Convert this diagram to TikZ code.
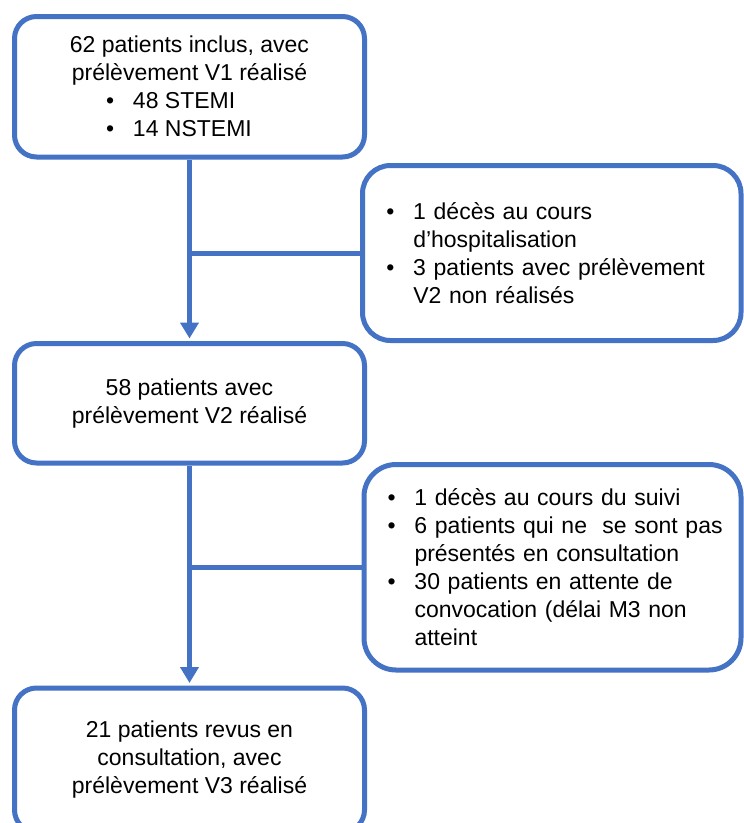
\documentclass[tikz,border=0pt]{standalone}
\usepackage{fontspec}
\setmainfont{Liberation Sans}
\usepackage{xcolor}
\usepackage{tikz}
\usetikzlibrary{arrows.meta}
\definecolor{bleu}{RGB}{68,114,196}
\newcommand{\puce}[1]{\mbox{\makebox[27pt][l]{\textbullet}#1}}
\newcommand{\retrait}[1]{\mbox{\hspace*{27pt}#1}}

\begin{document}
\begin{tikzpicture}[x=1pt,y=-1pt,
    boite/.style={draw=bleu, line width=5pt, fill=white, inner sep=0pt,
        font=\fontsize{23}{28}\selectfont},
    liste/.style={boite, align=left, inner xsep=23.5pt},
    fleche/.style={draw=bleu, line width=5pt, shorten >=2.5pt,
        -{Triangle[width=18pt,length=16pt]}},
    trait/.style={draw=bleu, line width=5pt}]
    \useasboundingbox (0,0) rectangle (744,823);

    % Left column
    \node[boite, rounded corners=22pt, minimum width=350pt, minimum height=140.5pt,
        align=center] (inclus) at (189.5,86.75)
        {62 patients inclus, avec\\prélèvement V1 réalisé\\
         \makebox[167pt][l]{\puce{48 STEMI}}\\
         \makebox[167pt][l]{\puce{14 NSTEMI}}};
    \node[boite, rounded corners=22pt, minimum width=350pt, minimum height=119.5pt,
        align=center] (prelev) at (189.5,403.25)
        {58 patients avec\\prélèvement V2 réalisé};
    \node[boite, rounded corners=22pt, minimum width=350pt, minimum height=144pt,
        align=center] (revus) at (189.5,760)
        {21 patients revus en\\consultation, avec\\prélèvement V3 réalisé};

    % Right column (exclusions)
    \node[liste, rounded corners=28pt, text width=331pt, minimum width=378.5pt,
        minimum height=175pt] (sortie1) at (551.75,253)
        {\puce{1 décès au cours}\\
         \retrait{d’hospitalisation}\\
         \puce{3 patients avec prélèvement}\\
         \retrait{V2 non réalisés}};
    \node[liste, rounded corners=32pt, text width=330pt, minimum width=377pt,
        minimum height=205.5pt] (sortie2) at (552.5,567.25)
        {\puce{1 décès au cours du suivi}\\
         \puce{6 patients qui ne~ se sont pas}\\
         \retrait{présentés en consultation}\\
         \puce{30 patients en attente de}\\
         \retrait{convocation (délai M3 non}\\
         \retrait{atteint}};

    % Connectors
    \draw[fleche] (inclus.south) -- (prelev.north);
    \draw[trait] (inclus.south |- sortie1.west) -- (sortie1.west);
    \draw[fleche] (prelev.south) -- (revus.north);
    \draw[trait] (prelev.south |- sortie2.west) -- (sortie2.west);
\end{tikzpicture}
\end{document}
